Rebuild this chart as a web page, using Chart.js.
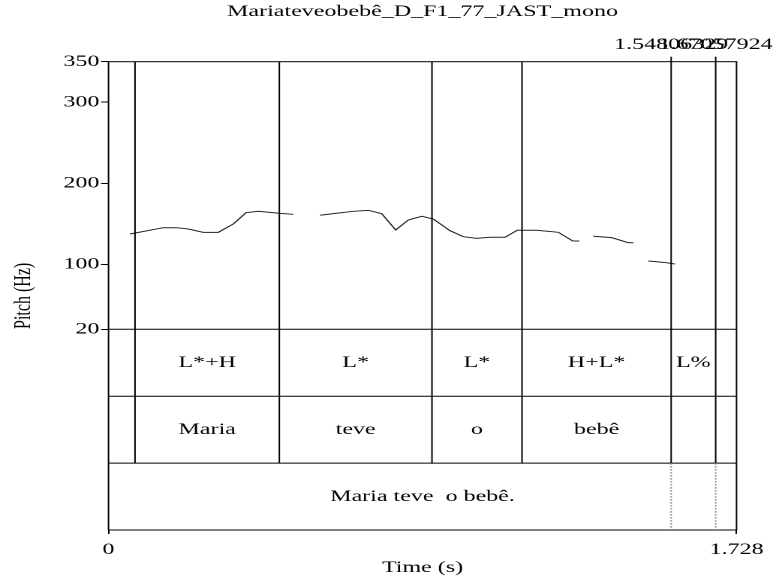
<!DOCTYPE html>
<html><head><meta charset="utf-8">
<script src="https://cdn.jsdelivr.net/npm/chart.js@4"></script>
<style>
html,body{margin:0;padding:0;background:#fff;overflow:hidden;width:776px;height:578px;}
#wrap{position:absolute;left:0;top:0;width:517px;height:578px;transform:scaleX(1.50097);transform-origin:0 0;}
canvas{display:block;}
</style></head><body>
<div id="wrap"><canvas id="c" width="517" height="578"></canvas></div>
<script>
// ---- data ----
const chartTitle = "Mariateveobebê_D_F1_77_JAST_mono";
const xTicks = [0, 1.728];
const yTicks = [20, 100, 200, 300, 350];
const pitchTimes = [0.0592,0.1508,0.1877,0.2196,0.2608,0.3021,0.3434,0.3783,0.4122,0.4719,0.5085,0.545,
  0.5820,0.6186,0.6736,0.7149,0.7517,0.7902,0.8249,0.8618,0.8937,0.9397,0.9763,1.0131,1.0497,1.0910,1.1248,1.1782,1.2377,1.2773,1.2954,1.315,
  1.3339,1.3846,1.4303,1.4440,1.465,
  1.4853,1.5266,1.5588];
const pitchHz = [137.5,145.3,145.3,143.7,139.6,139.6,149.9,163.8,165.5,163.0,161.8,null,
  160.6,162.6,165.5,166.7,162.6,142.5,154.8,159.4,156.0,141.6,134.2,132.2,133.5,133.5,142.1,142.1,139.6,128.9,128.9,null,
  134.7,133.0,126.8,126.8,null,
  104.2,102.6,100.5];
const boundaries = [0.0729, 0.470, 0.890, 1.1378, 1.54806329, 1.67057924];
const labeledBoundaries = [1.54806329, 1.67057924];
const toneLabels = ["", "L*+H", "L*", "L*", "H+L*", "L%", ""];
const wordLabels = ["", "Maria", "teve", "o", "bebê", "", ""];
const sentenceLabel = "Maria teve  o bebê.";
const dottedBoundaries = [1.54806329, 1.67057924];

const FONT = '16px "Liberation Serif"';
Chart.defaults.font.family = 'Liberation Serif';
Chart.defaults.font.size = 16;
Chart.defaults.color = '#000';

const tierPlugin = {
  id: 'tiers',
  afterDatasetsDraw(chart) {
    const {ctx, chartArea: a, scales: {x, y}} = chart;
    const y20 = y.getPixelForValue(yTicks[0]);
    const th = (a.bottom - y20) / 3;
    const t2 = y20 + th, t3 = y20 + 2 * th;
    const line = (x1, y1, x2, y2) => { ctx.beginPath(); ctx.moveTo(x1, y1); ctx.lineTo(x2, y2); ctx.stroke(); };
    ctx.save();
    ctx.strokeStyle = '#000'; ctx.lineWidth = 1;
    ctx.strokeRect(a.left, a.top, a.right - a.left, a.bottom - a.top);
    [y20, t2, t3].forEach(v => line(a.left, v, a.right, v));
    boundaries.forEach(b => { const px = x.getPixelForValue(b); line(px, a.top, px, t3); });
    labeledBoundaries.forEach(b => { const px = x.getPixelForValue(b); line(px, a.top - 5, px, a.top); });
    ctx.setLineDash([1.5, 1.5]); ctx.strokeStyle = '#888';
    dottedBoundaries.forEach(b => { const px = x.getPixelForValue(b); line(px, t3, px, a.bottom); });
    ctx.setLineDash([]);
    ctx.font = FONT; ctx.fillStyle = '#000'; ctx.textAlign = 'center'; ctx.textBaseline = 'middle';
    const edges = [x.min, ...boundaries, x.max];
    for (let i = 0; i < edges.length - 1; i++) {
      const cx = (x.getPixelForValue(edges[i]) + x.getPixelForValue(edges[i + 1])) / 2;
      if (toneLabels[i]) ctx.fillText(toneLabels[i], cx, y20 + th / 2);
      if (wordLabels[i]) ctx.fillText(wordLabels[i], cx, t2 + th / 2);
    }
    ctx.fillText(sentenceLabel, (a.left + a.right) / 2, t3 + th / 2);
    labeledBoundaries.forEach(b => ctx.fillText(String(b), x.getPixelForValue(b), a.top - 17));
    ctx.restore();
  }
};

new Chart(document.getElementById('c'), {
  type: 'line',
  data: {
    datasets: [{
      data: pitchTimes.map((t, i) => ({x: t, y: pitchHz[i]})),
      borderColor: '#222', borderWidth: 1, pointRadius: 0, tension: 0, spanGaps: false, fill: false
    }]
  },
  options: {
    responsive: false, devicePixelRatio: 2, animation: false,
    layout: {padding: {left: 0, right: 26.3, top: 0, bottom: 0}},
    plugins: {
      legend: {display: false}, tooltip: {enabled: false},
      title: {display: true, text: chartTitle, fullSize: false, font: {size: 16, weight: 'normal'}, color: '#000', padding: {top: 2, bottom: 40.5}}
    },
    scales: {
      x: {
        type: 'linear', min: xTicks[0], max: xTicks[1],
        afterBuildTicks: s => { s.ticks = xTicks.map(v => ({value: v})); },
        ticks: {callback: v => String(v), padding: 6, maxRotation: 0, autoSkip: false},
        grid: {drawOnChartArea: false, drawTicks: true, tickLength: 4, color: '#000'},
        border: {display: false},
        title: {display: true, text: 'Time (s)', padding: {top: 0, bottom: 0.5}},
        afterFit: s => { s.height = 48; }
      },
      y: {
        type: 'linear', min: -227.5, max: yTicks[yTicks.length - 1],
        afterBuildTicks: s => { s.ticks = yTicks.map(v => ({value: v})); },
        ticks: {callback: v => String(v), padding: 1, autoSkip: false},
        grid: {drawOnChartArea: false, drawTicks: true, tickLength: 5, color: '#000'},
        border: {display: false},
        title: {display: true, text: 'Pitch (Hz)', padding: {top: 6, bottom: 0}},
        afterFit: s => { s.width = 72.29; }
      }
    }
  },
  plugins: [tierPlugin]
});
</script>
</body></html>
